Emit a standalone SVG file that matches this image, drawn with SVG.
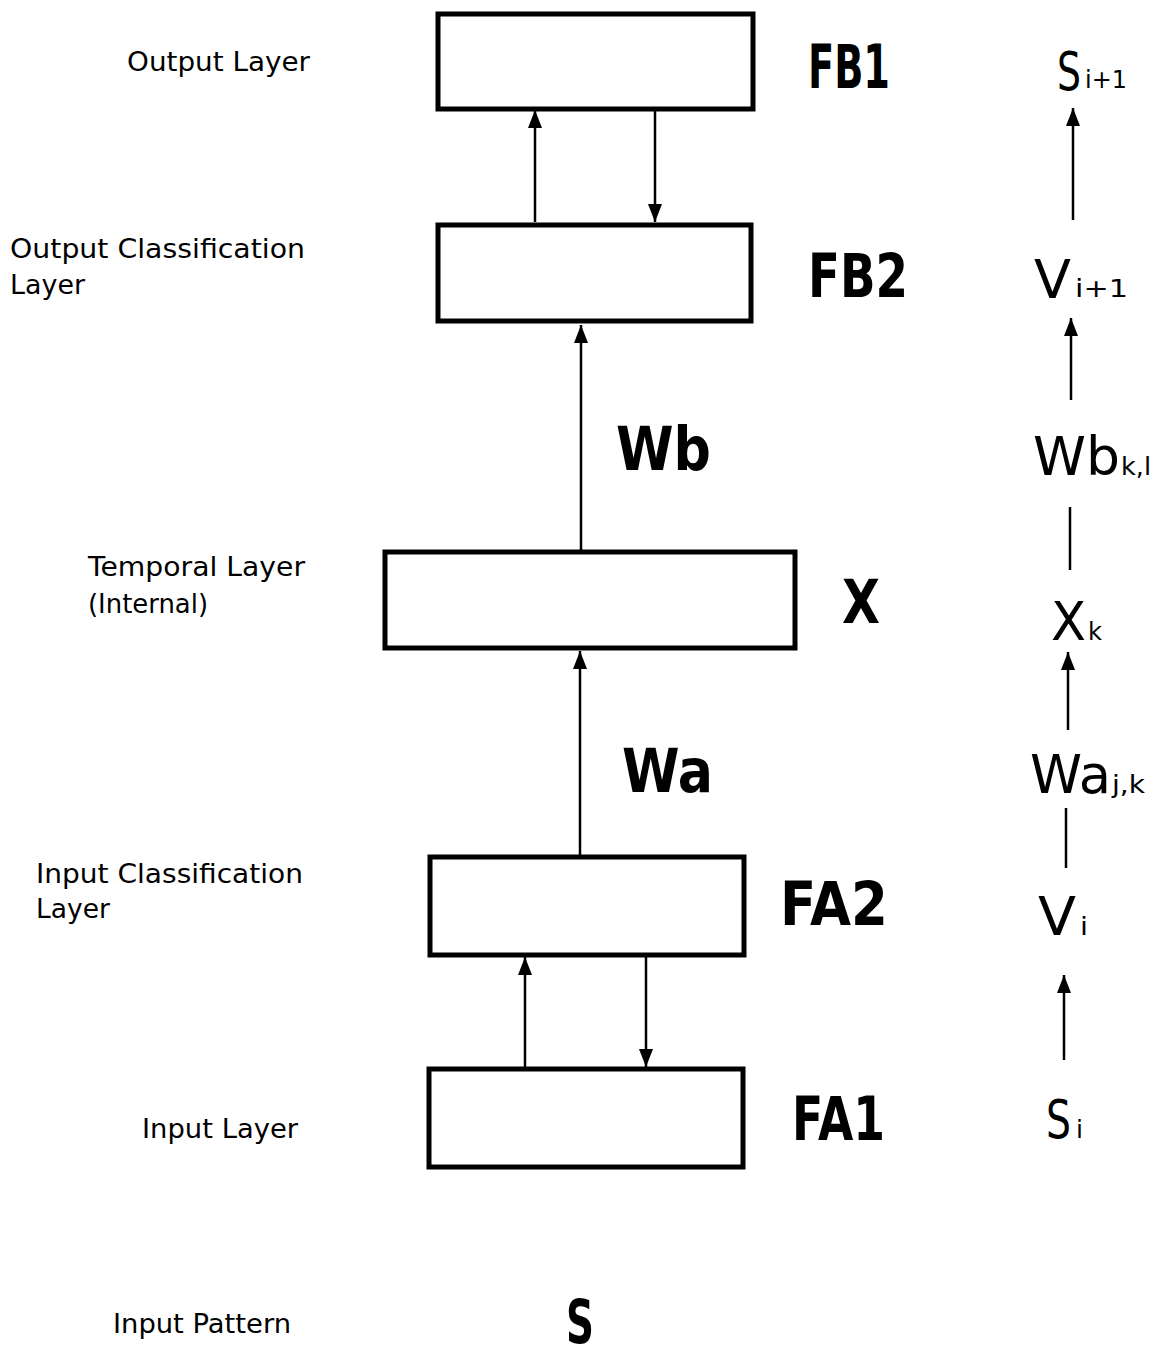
<svg xmlns="http://www.w3.org/2000/svg" width="1164" height="1353" viewBox="0 0 1164 1353">
<style>
.box{fill:#fff;stroke:#000;stroke-width:5}
.lbl{font-family:"DejaVu Sans","Liberation Sans",sans-serif;font-size:26px;fill:#000}
.big{font-family:"DejaVu Sans","Liberation Sans",sans-serif;font-size:60px;font-weight:bold;fill:#000}
.rt{font-family:"DejaVu Sans","Liberation Sans",sans-serif;font-size:54px;fill:#000}
.sub{font-family:"DejaVu Sans","Liberation Sans",sans-serif;font-size:24px;fill:#000}
.ln{stroke:#000;stroke-width:2.5;fill:none}
</style>
<defs>
<marker id="ah" markerUnits="userSpaceOnUse" markerWidth="18" markerHeight="14" refX="18" refY="7" orient="auto">
<path d="M0,0 L18,7 L0,14 z" fill="#000"/>
</marker>
</defs>
<rect width="1164" height="1353" fill="#fff"/>

<g id="connectors">
<line class="ln" x1="535" y1="222" x2="535" y2="110" marker-end="url(#ah)"/>
<line class="ln" x1="655" y1="110" x2="655" y2="222" marker-end="url(#ah)"/>
<line class="ln" x1="581" y1="550" x2="581" y2="325" marker-end="url(#ah)"/>
<line class="ln" x1="580" y1="855" x2="580" y2="651" marker-end="url(#ah)"/>
<line class="ln" x1="525" y1="1067" x2="525" y2="957" marker-end="url(#ah)"/>
<line class="ln" x1="646" y1="957" x2="646" y2="1067" marker-end="url(#ah)"/>
<line class="ln" x1="1073" y1="220" x2="1073" y2="108" marker-end="url(#ah)"/>
<line class="ln" x1="1071" y1="400" x2="1071" y2="318" marker-end="url(#ah)"/>
<line class="ln" x1="1070" y1="507" x2="1070" y2="570"/>
<line class="ln" x1="1068" y1="730" x2="1068" y2="652" marker-end="url(#ah)"/>
<line class="ln" x1="1066" y1="808" x2="1066" y2="868"/>
<line class="ln" x1="1064" y1="1060" x2="1064" y2="975" marker-end="url(#ah)"/>
</g>

<g id="FB1">
<rect class="box" x="438" y="14" width="315" height="95"/>
<text class="big" x="808" y="88" textLength="82" lengthAdjust="spacingAndGlyphs">FB1</text>
</g>
<g id="FB2">
<rect class="box" x="438" y="225" width="313" height="96"/>
<text class="big" x="808" y="297" textLength="100" lengthAdjust="spacingAndGlyphs">FB2</text>
</g>
<g id="X">
<rect class="box" x="385" y="552" width="410" height="96"/>
<text class="big" x="842" y="623" textLength="38" lengthAdjust="spacingAndGlyphs">X</text>
</g>
<g id="FA2">
<rect class="box" x="430" y="857" width="314" height="98"/>
<text class="big" x="780" y="925" textLength="108" lengthAdjust="spacingAndGlyphs">FA2</text>
</g>
<g id="FA1">
<rect class="box" x="429" y="1069" width="314" height="98"/>
<text class="big" x="792" y="1140" textLength="93" lengthAdjust="spacingAndGlyphs">FA1</text>
</g>

<g id="weights">
<text class="big" x="616" y="470" textLength="95" lengthAdjust="spacingAndGlyphs">Wb</text>
<text class="big" x="622" y="792" textLength="91" lengthAdjust="spacingAndGlyphs">Wa</text>
<text class="big" x="566" y="1343" font-size="58" textLength="28" lengthAdjust="spacingAndGlyphs">S</text>
</g>

<g id="left-labels">
<text class="lbl" x="127" y="71" textLength="183" lengthAdjust="spacingAndGlyphs">Output Layer</text>
<text class="lbl" x="10" y="258" textLength="295" lengthAdjust="spacingAndGlyphs">Output Classification</text>
<text class="lbl" x="10" y="294" textLength="75" lengthAdjust="spacingAndGlyphs">Layer</text>
<text class="lbl" x="88" y="576" textLength="217" lengthAdjust="spacingAndGlyphs">Temporal Layer</text>
<text class="lbl" x="88" y="613" textLength="120" lengthAdjust="spacingAndGlyphs">(Internal)</text>
<text class="lbl" x="36" y="883" textLength="267" lengthAdjust="spacingAndGlyphs">Input Classification</text>
<text class="lbl" x="36" y="918" textLength="74" lengthAdjust="spacingAndGlyphs">Layer</text>
<text class="lbl" x="142" y="1138" textLength="156" lengthAdjust="spacingAndGlyphs">Input Layer</text>
<text class="lbl" x="113" y="1333" textLength="178" lengthAdjust="spacingAndGlyphs">Input Pattern</text>
</g>

<g id="right-labels">
<text class="rt" x="1057" y="90" textLength="24" lengthAdjust="spacingAndGlyphs">S</text>
<text class="sub" x="1085" y="88" textLength="42" lengthAdjust="spacingAndGlyphs">i+1</text>
<text class="rt" x="1034" y="298" textLength="37" lengthAdjust="spacingAndGlyphs">V</text>
<text class="sub" x="1075" y="297" textLength="53" lengthAdjust="spacingAndGlyphs">i+1</text>
<text class="rt" x="1033" y="475" textLength="87" lengthAdjust="spacingAndGlyphs">Wb</text>
<text class="sub" x="1121" y="475" textLength="30" lengthAdjust="spacingAndGlyphs">k,l</text>
<text class="rt" x="1051" y="640" textLength="35" lengthAdjust="spacingAndGlyphs">X</text>
<text class="sub" x="1088" y="640" textLength="14" lengthAdjust="spacingAndGlyphs">k</text>
<text class="rt" x="1030" y="793" textLength="81" lengthAdjust="spacingAndGlyphs">Wa</text>
<text class="sub" x="1112" y="793" textLength="33" lengthAdjust="spacingAndGlyphs">j,k</text>
<text class="rt" x="1038" y="935" textLength="38" lengthAdjust="spacingAndGlyphs">V</text>
<text class="sub" x="1080" y="935" textLength="8" lengthAdjust="spacingAndGlyphs">i</text>
<text class="rt" x="1046" y="1138" textLength="25" lengthAdjust="spacingAndGlyphs">S</text>
<text class="sub" x="1076" y="1138" textLength="7" lengthAdjust="spacingAndGlyphs">i</text>
</g>
</svg>
